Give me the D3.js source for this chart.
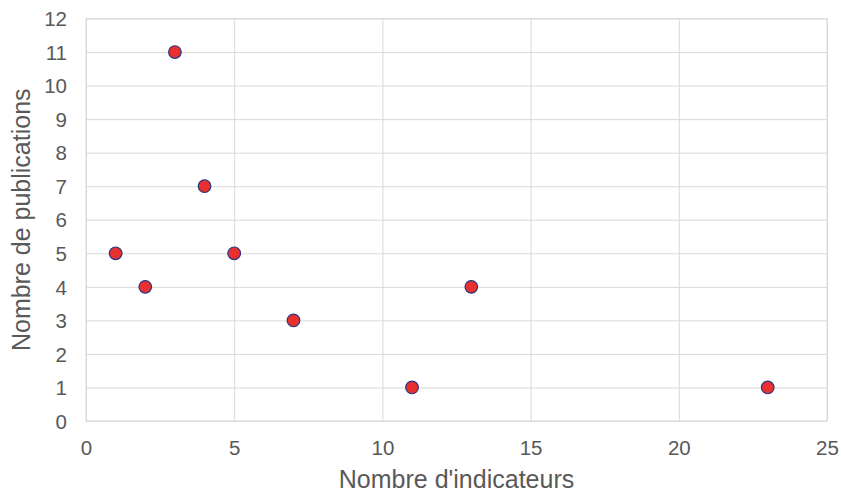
<!DOCTYPE html>
<html><head><meta charset="utf-8">
<script src="https://cdn.jsdelivr.net/npm/d3@7"></script>
<style>body{margin:0;background:#fff}svg{display:block}</style>
</head><body>
<svg id="c" width="841" height="492"></svg>
<script>
const xValues = [1, 2, 3, 4, 5, 7, 11, 13, 23];
const yValues = [5, 4, 11, 7, 5, 3, 1, 4, 1];
const xTicks = [0, 5, 10, 15, 20, 25];
const yTicks = [0,1,2,3,4,5,6,7,8,9,10,11,12];
const xTitle = "Nombre d'indicateurs";
const yTitle = "Nombre de publications";

const svg = d3.select("#c");
const L = 86, R = 827, T = 18.5, B = 421;
const x = d3.scaleLinear().domain([0,25]).range([L,R]);
const y = d3.scaleLinear().domain([0,12]).range([B,T]);
const font = "Liberation Sans, Arial, sans-serif";

const gx = svg.append("g").attr("transform",`translate(0,${B})`)
  .call(d3.axisBottom(x).tickValues(xTicks).tickSize(-(B-T)).tickFormat(d3.format("d")));
gx.select(".domain").remove();
gx.selectAll("line").attr("stroke","#d9d9d9").attr("stroke-width",1);
gx.selectAll("text").attr("fill","#595959").attr("font-size","20.5px").attr("font-family",font).attr("dy","0").attr("y",33.5);

const gy = svg.append("g").attr("transform",`translate(${L},0)`)
  .call(d3.axisLeft(y).tickValues(yTicks).tickSize(-(R-L)).tickFormat(d3.format("d")));
gy.select(".domain").remove();
gy.selectAll("line").attr("stroke","#d9d9d9").attr("stroke-width",1);
gy.selectAll("text").attr("fill","#595959").attr("font-size","20.5px").attr("font-family",font).attr("x",-19).attr("dy","0.35em");

svg.append("rect").attr("x",L).attr("y",T).attr("width",R-L).attr("height",B-T)
  .attr("fill","none").attr("stroke","#d9d9d9");

svg.append("text").attr("x",(L+R)/2).attr("y",488).attr("text-anchor","middle")
  .attr("fill","#595959").attr("font-size","25px").attr("font-family",font).text(xTitle);
svg.append("text").attr("transform",`translate(30,${(T+B)/2}) rotate(-90)`).attr("text-anchor","middle")
  .attr("fill","#595959").attr("font-size","25px").attr("font-family",font).text(yTitle);

svg.append("g").selectAll("circle").data(xValues.map((v,i)=>[v,yValues[i]])).join("circle")
  .attr("cx",d=>x(d[0])).attr("cy",d=>y(d[1])).attr("r",6.3)
  .attr("fill","#e8302e").attr("stroke","#2e3580").attr("stroke-width",1.2);
</script>
</body></html>
